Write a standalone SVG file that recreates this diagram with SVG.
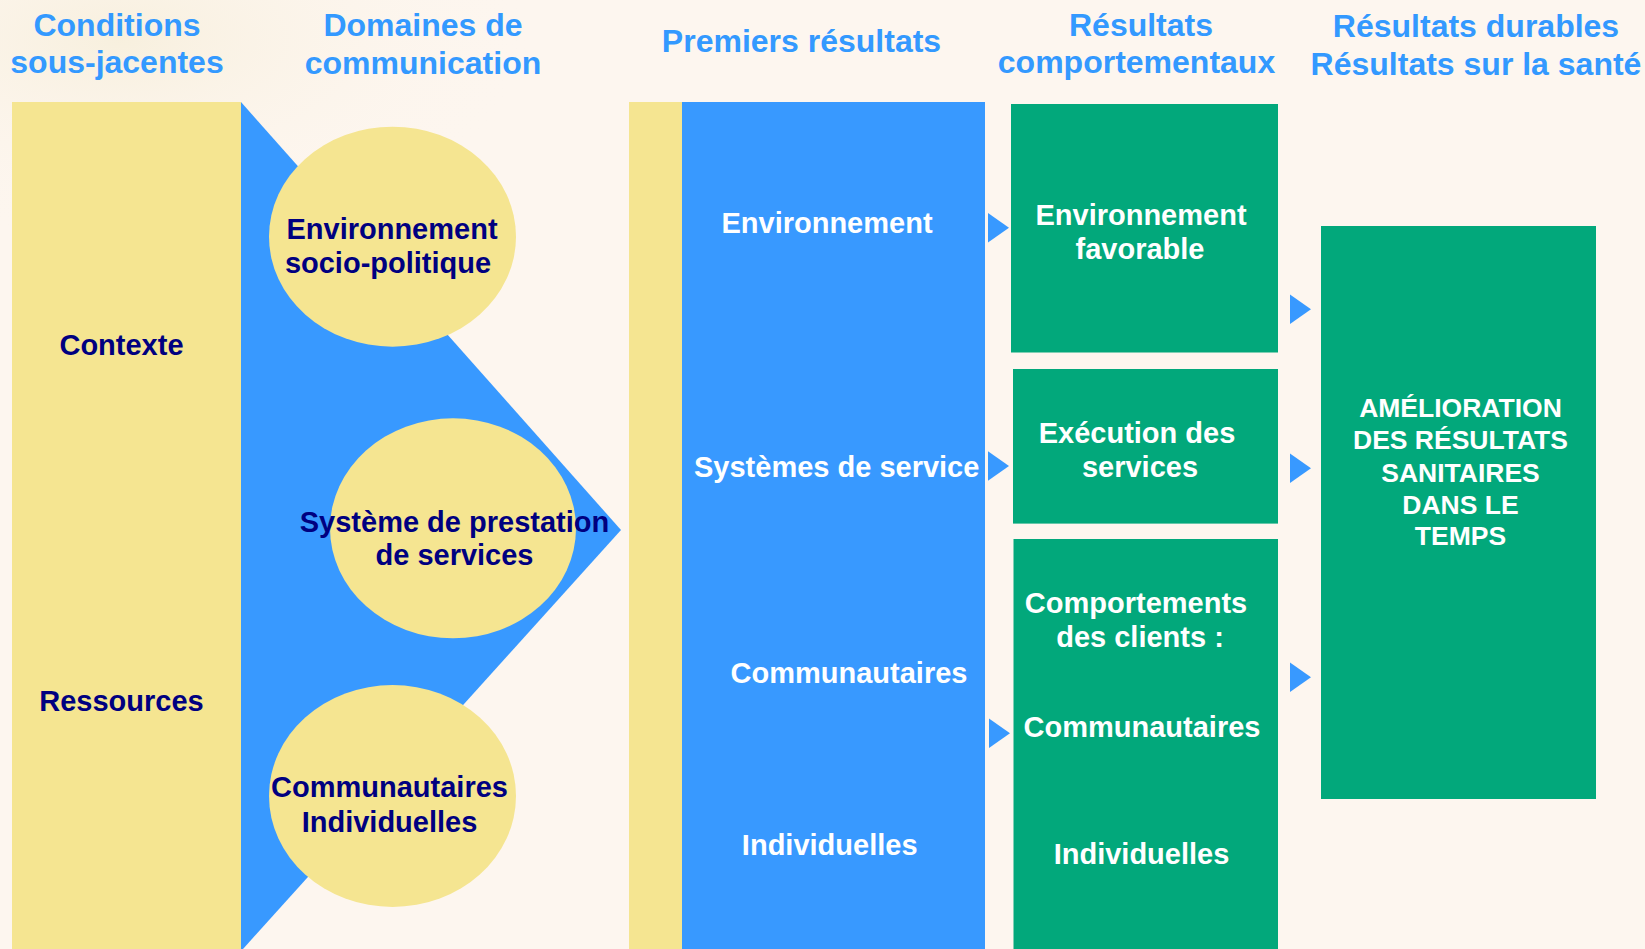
<svg xmlns="http://www.w3.org/2000/svg" width="1645" height="949" viewBox="0 0 1645 949">
<style>
.hdr{font-family:"Liberation Sans",Arial,sans-serif;font-weight:bold;font-size:32px;fill:#3399ff;text-anchor:middle}
.dk{font-family:"Liberation Sans",Arial,sans-serif;font-weight:bold;font-size:29px;fill:#000080;text-anchor:middle}
.wt{font-family:"Liberation Sans",Arial,sans-serif;font-weight:bold;font-size:29px;fill:#ffffff;text-anchor:middle}
.cap{font-family:"Liberation Sans",Arial,sans-serif;font-weight:bold;font-size:26.5px;fill:#ffffff;text-anchor:middle}
.yel{fill:#f5e591}
.blu{fill:#3899ff}
.grn{fill:#02a87b}
.arr{fill:#3899ff}
</style>
<defs>
<radialGradient id="bgglow" cx="0" cy="0" r="1" gradientUnits="userSpaceOnUse" gradientTransform="translate(120 40) scale(420 200)">
<stop offset="0" stop-color="#f7efdc" stop-opacity="0.9"/>
<stop offset="1" stop-color="#fdf6ef" stop-opacity="0"/>
</radialGradient>
<path id="tri" d="M0,-14.8 L21,0 L0,14.8 Z"/>
</defs>
<rect x="0" y="0" width="1645" height="949" fill="#fdf6ef"/>
<rect x="0" y="0" width="700" height="260" fill="url(#bgglow)"/>

<g id="headers">
<text class="hdr" x="117" y="36">Conditions</text>
<text class="hdr" x="117" y="73">sous-jacentes</text>
<text class="hdr" x="423" y="36">Domaines de</text>
<text class="hdr" x="423" y="74">communication</text>
<text class="hdr" x="801.5" y="52">Premiers résultats</text>
<text class="hdr" x="1141" y="36">Résultats</text>
<text class="hdr" x="1136.5" y="73">comportementaux</text>
<text class="hdr" x="1476" y="37">Résultats durables</text>
<text class="hdr" x="1476" y="75">Résultats sur la santé</text>
</g>

<g id="conditions">
<rect class="yel" x="12" y="102" width="229" height="847"/>
<text class="dk" x="121.5" y="355">Contexte</text>
<text class="dk" x="121.5" y="711">Ressources</text>
</g>

<g id="domaines">
<polygon class="blu" points="241,102 621,530 243,949 241,949"/>
</g>

<g id="env-socio">
<ellipse class="yel" cx="392.5" cy="236.7" rx="123.5" ry="110"/>
<text class="dk" x="392" y="239">Environnement</text>
<text class="dk" x="388" y="272.7">socio-politique</text>
</g>

<g id="systeme-prestation">
<ellipse class="yel" cx="453" cy="528.3" rx="123" ry="110"/>
<text class="dk" x="454.5" y="531.7">Système de prestation</text>
<text class="dk" x="454.5" y="565">de services</text>
</g>

<g id="communautaires-individuelles">
<ellipse class="yel" cx="392.5" cy="796" rx="123.5" ry="111"/>
<text class="dk" x="389.5" y="796.7">Communautaires</text>
<text class="dk" x="389.5" y="831.7">Individuelles</text>
</g>

<g id="premiers-resultats">
<rect class="yel" x="629" y="102" width="53" height="847"/>
<rect class="blu" x="682" y="102" width="303" height="847"/>
<text class="wt" x="827" y="233.3">Environnement</text>
<text class="wt" x="836.7" y="477">Systèmes de service</text>
<text class="wt" x="849" y="683.3">Communautaires</text>
<text class="wt" x="829.7" y="855">Individuelles</text>
</g>

<g id="env-favorable">
<rect class="grn" x="1011" y="104" width="267" height="248.5"/>
<text class="wt" x="1141" y="224.6">Environnement</text>
<text class="wt" x="1140" y="259.3">favorable</text>
</g>

<g id="execution-services">
<rect class="grn" x="1013" y="369" width="265" height="154.6"/>
<text class="wt" x="1137" y="443.2">Exécution des</text>
<text class="wt" x="1140" y="477">services</text>
</g>

<g id="comportements-clients">
<rect class="grn" x="1013.5" y="539" width="264.5" height="410"/>
<text class="wt" x="1136" y="613.2">Comportements</text>
<text class="wt" x="1140" y="647">des clients :</text>
<text class="wt" x="1142" y="737.3">Communautaires</text>
<text class="wt" x="1141.5" y="864.3">Individuelles</text>
</g>

<g id="amelioration">
<rect class="grn" x="1321" y="226" width="275" height="573"/>
<text class="cap" x="1460.5" y="417.4">AMÉLIORATION</text>
<text class="cap" x="1460.5" y="449">DES RÉSULTATS</text>
<text class="cap" x="1460.5" y="481.8">SANITAIRES</text>
<text class="cap" x="1460.5" y="514">DANS LE</text>
<text class="cap" x="1460.5" y="545">TEMPS</text>
</g>

<g id="connectors">
<use href="#tri" class="arr" x="988" y="227.7"/>
<use href="#tri" class="arr" x="988" y="466"/>
<use href="#tri" class="arr" x="989" y="733.3"/>
<use href="#tri" class="arr" x="1290" y="309.3"/>
<use href="#tri" class="arr" x="1290" y="468.3"/>
<use href="#tri" class="arr" x="1290" y="677.3"/>
</g>
</svg>
